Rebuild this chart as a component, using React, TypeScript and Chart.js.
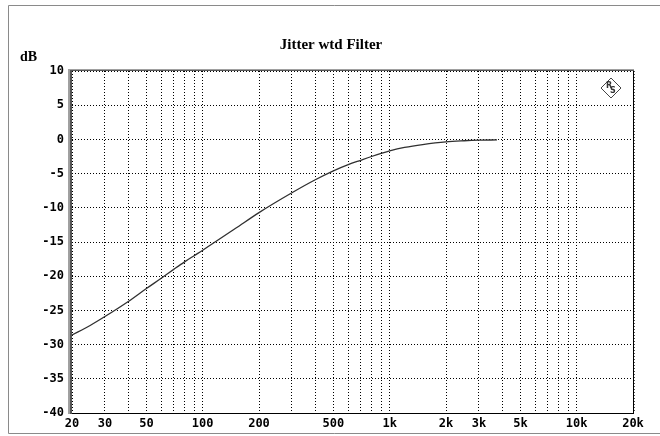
import React, { useEffect, useRef } from "react";
import { Chart, registerables } from "chart.js";

Chart.register(...registerables);

// ---- data ----
const FREQ_HZ = [20, 25, 30, 40, 50, 60, 70, 80, 90, 100, 150, 200, 300, 400, 500, 600, 700, 800, 900, 1000, 1200, 1500, 2000, 2500, 3000, 3750];
const LEVEL_DB = [-28.6, -27.2, -25.9, -23.7, -21.8, -20.3, -19.0, -17.9, -17.0, -16.2, -13.0, -10.7, -7.8, -5.9, -4.6, -3.7, -3.05, -2.5, -2.05, -1.68, -1.18, -0.75, -0.35, -0.2, -0.12, -0.08];

const X_GRID = [20, 30, 40, 50, 60, 70, 80, 90, 100, 200, 300, 400, 500, 600, 700, 800, 900, 1000, 2000, 3000, 4000, 5000, 6000, 7000, 8000, 9000, 10000, 20000];
const X_LABEL_VALUES = [20, 30, 50, 100, 200, 500, 1000, 2000, 3000, 5000, 10000, 20000];
const X_LABEL_TEXT = ["20", "30", "50", "100", "200", "500", "1k", "2k", "3k", "5k", "10k", "20k"];

const Y_MIN = -40;
const Y_MAX = 10;
const Y_STEP = 5;

const TITLE = "Jitter wtd Filter";
const Y_UNIT = "dB";

const decorPlugin = {
  id: "decor",
  afterDraw(chart: any) {
    const { ctx, chartArea } = chart;
    const { left, top, right, bottom } = chartArea;
    ctx.save();
    // outer frame
    ctx.strokeStyle = "#8a8a8a";
    ctx.lineWidth = 1;
    ctx.beginPath();
    ctx.moveTo(660, 5.5);
    ctx.lineTo(8.5, 5.5);
    ctx.lineTo(8.5, 433.5);
    ctx.lineTo(660, 433.5);
    ctx.stroke();

    // right / bottom thin borders
    ctx.strokeStyle = "#000";
    ctx.beginPath();
    ctx.moveTo(Math.round(right) + 0.5, top);
    ctx.lineTo(Math.round(right) + 0.5, bottom + 1);
    ctx.moveTo(left, Math.round(bottom) + 0.5);
    ctx.lineTo(right + 1, Math.round(bottom) + 0.5);
    ctx.stroke();
    ctx.setLineDash([1, 2]);
    ctx.strokeStyle = "#555";
    ctx.beginPath();
    ctx.moveTo(Math.round(right) + 1.5, top);
    ctx.lineTo(Math.round(right) + 1.5, bottom);
    ctx.stroke();
    ctx.setLineDash([]);

    // thick left / top borders (3D look)
    ctx.fillStyle = "#a0a0a0";
    ctx.fillRect(left - 4, top - 2, 4, bottom - top + 3);
    ctx.fillRect(left - 4, top - 2, right - left + 5, 2);
    ctx.fillStyle = "#555";
    ctx.fillRect(left - 2, top - 1, 2, bottom - top + 2);
    ctx.fillRect(left - 2, top - 1, right - left + 3, 1);

    // title
    ctx.fillStyle = "#000";
    ctx.textAlign = "center";
    ctx.textBaseline = "middle";
    ctx.font = "bold 15px 'Liberation Serif'";
    ctx.fillText(TITLE, 331, 45);
    ctx.textAlign = "left";
    ctx.font = "bold 14px 'Liberation Serif'";
    ctx.fillText(Y_UNIT, 20, 57);

    // R&S style logo
    const cx = 611, cy = 88, r = 10;
    ctx.strokeStyle = "#444";
    ctx.lineWidth = 1;
    ctx.beginPath();
    ctx.moveTo(cx, cy - r);
    ctx.lineTo(cx + r, cy);
    ctx.lineTo(cx, cy + r);
    ctx.lineTo(cx - r, cy);
    ctx.closePath();
    ctx.stroke();
    ctx.fillStyle = "#333";
    ctx.textAlign = "center";
    ctx.font = "bold 8px 'DejaVu Sans'";
    ctx.fillText("R", cx - 2, cy - 2);
    ctx.fillText("S", cx + 2, cy + 3);
    ctx.restore();
  },
};

export default function App() {
  const ref = useRef<HTMLCanvasElement | null>(null);

  useEffect(() => {
    if (!ref.current) return;
    const tickFont = { family: "'DejaVu Sans Mono'", size: 12, weight: "bold" as const };
    const chart = new Chart(ref.current, {
      type: "line",
      data: {
        datasets: [
          {
            data: FREQ_HZ.map((f, i) => ({ x: f, y: LEVEL_DB[i] })),
            borderColor: "#303030",
            borderWidth: 1.3,
            pointRadius: 0,
            fill: false,
            cubicInterpolationMode: "monotone",
          },
        ],
      },
      options: {
        animation: false,
        responsive: false,
        events: [],
        layout: { padding: { left: 0, top: 71, right: 27, bottom: 0 } },
        plugins: { legend: { display: false }, tooltip: { enabled: false }, title: { display: false } },
        scales: {
          x: {
            type: "logarithmic",
            min: 20,
            max: 20000,
            afterBuildTicks: (scale: any) => {
              scale.ticks = X_GRID.map((v) => ({ value: v }));
            },
            afterFit: (scale: any) => {
              scale.height = 23;
            },
            ticks: {
              autoSkip: false,
              maxRotation: 0,
              padding: 4,
              color: "#000",
              font: tickFont,
              callback: (value: any) => {
                const i = X_LABEL_VALUES.indexOf(Number(value));
                return i >= 0 ? X_LABEL_TEXT[i] : "";
              },
            },
            grid: { color: "#000", lineWidth: 1, drawTicks: false },
            border: { display: false, dash: [1, 2] },
          },
          y: {
            type: "linear",
            min: Y_MIN,
            max: Y_MAX,
            afterFit: (scale: any) => {
              scale.width = 72;
            },
            ticks: {
              stepSize: Y_STEP,
              padding: 8,
              color: "#000",
              font: tickFont,
              callback: (value: any) => String(value),
            },
            grid: { color: "#000", lineWidth: 1, drawTicks: false },
            border: { display: false, dash: [1, 2] },
          },
        },
      },
      plugins: [decorPlugin],
    });
    return () => chart.destroy();
  }, []);

  return (
    <div style={{ position: "absolute", left: 0, top: 0, width: 660, height: 436, background: "#fff" }}>
      <canvas ref={ref} width={660} height={436} style={{ display: "block" }} />
    </div>
  );
}
